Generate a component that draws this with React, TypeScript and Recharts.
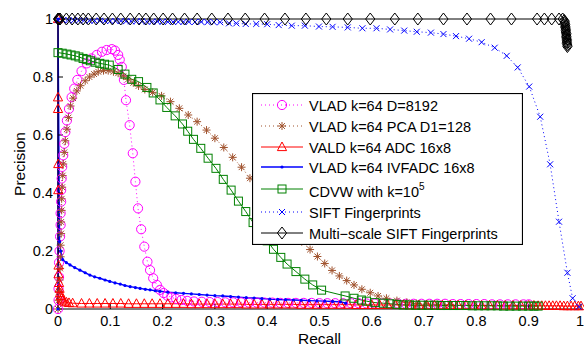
import React from "react";
import { LineChart, Line, XAxis, YAxis, Legend } from "recharts";

// recall / precision pairs
const vladD8192: [number, number][] = [
  [0, 0], [0.001, 0.03], [0.001, 0.07], [0.002, 0.11], [0.002, 0.16], [0.003, 0.2], [0.004, 0.25], [0.005, 0.29],
  [0.005, 0.33], [0.006, 0.37], [0.006, 0.41], [0.007, 0.45], [0.008, 0.49], [0.01, 0.53], [0.012, 0.57], [0.014, 0.61],
  [0.017, 0.65], [0.021, 0.69], [0.026, 0.73], [0.031, 0.76], [0.037, 0.79], [0.045, 0.82], [0.055, 0.847], [0.064, 0.864],
  [0.074, 0.876], [0.084, 0.887], [0.093, 0.893], [0.103, 0.896], [0.109, 0.891], [0.115, 0.876], [0.118, 0.86],
  [0.122, 0.835], [0.126, 0.79], [0.13, 0.72], [0.137, 0.634], [0.143, 0.537], [0.148, 0.439], [0.153, 0.347],
  [0.159, 0.275], [0.165, 0.215], [0.171, 0.163], [0.176, 0.134], [0.182, 0.106], [0.189, 0.083], [0.195, 0.066],
  [0.202, 0.055], [0.209, 0.046], [0.217, 0.04], [0.226, 0.035], [0.236, 0.031], [0.247, 0.028], [0.26, 0.026],
  [0.275, 0.025], [0.29, 0.024], [0.305, 0.024], [0.32, 0.023], [0.335, 0.023], [0.35, 0.023], [0.365, 0.022],
  [0.38, 0.022], [0.395, 0.022], [0.41, 0.022], [0.425, 0.021], [0.44, 0.021], [0.455, 0.021], [0.47, 0.021],
  [0.485, 0.021], [0.5, 0.02], [0.515, 0.02], [0.53, 0.02], [0.545, 0.02], [0.56, 0.02], [0.575, 0.02], [0.59, 0.019],
  [0.605, 0.019], [0.62, 0.019], [0.635, 0.019], [0.65, 0.019], [0.665, 0.018], [0.68, 0.018], [0.695, 0.018],
  [0.71, 0.018], [0.725, 0.018], [0.74, 0.018], [0.755, 0.017], [0.77, 0.017], [0.785, 0.017], [0.8, 0.017],
  [0.815, 0.017], [0.83, 0.016], [0.845, 0.016], [0.86, 0.016], [0.875, 0.016], [0.89, 0.016], [0.9, 0.016],
];

const vladPca128: [number, number][] = [
  [0, 0], [0.001, 0.03], [0.002, 0.06], [0.003, 0.1], [0.004, 0.14], [0.005, 0.18], [0.005, 0.22], [0.006, 0.26],
  [0.006, 0.3], [0.007, 0.34], [0.007, 0.38], [0.008, 0.42], [0.009, 0.46], [0.01, 0.5], [0.012, 0.54], [0.014, 0.58],
  [0.017, 0.62], [0.02, 0.66], [0.024, 0.7], [0.029, 0.727], [0.036, 0.752], [0.043, 0.77], [0.052, 0.787], [0.06, 0.8],
  [0.069, 0.81], [0.077, 0.818], [0.087, 0.822], [0.096, 0.822], [0.106, 0.818], [0.115, 0.813], [0.125, 0.803],
  [0.134, 0.792], [0.144, 0.78], [0.154, 0.769], [0.166, 0.757], [0.181, 0.747], [0.198, 0.735], [0.215, 0.715],
  [0.232, 0.692], [0.249, 0.669], [0.266, 0.646], [0.284, 0.617], [0.3, 0.589], [0.317, 0.557], [0.334, 0.523],
  [0.351, 0.489], [0.367, 0.451], [0.384, 0.412], [0.4, 0.374], [0.416, 0.336], [0.432, 0.3], [0.45, 0.263],
  [0.466, 0.232], [0.482, 0.205], [0.496, 0.181], [0.51, 0.157], [0.524, 0.133], [0.538, 0.114], [0.552, 0.098],
  [0.566, 0.083], [0.581, 0.068], [0.597, 0.056], [0.612, 0.045], [0.628, 0.037], [0.648, 0.029], [0.667, 0.023],
  [0.685, 0.019], [0.705, 0.017], [0.725, 0.016], [0.75, 0.015],
];

const valdAdc: [number, number][] = [
  [0, 1], [0, 0.73], [0, 0.69], [0.0005, 0.5], [0.0005, 0.41], [0.001, 0.15], [0.001, 0.12], [0.002, 0.09],
  [0.003, 0.07], [0.004, 0.055], [0.005, 0.045], [0.007, 0.036], [0.009, 0.03], [0.012, 0.026], [0.016, 0.023],
  [0.021, 0.021], [0.028, 0.02], [0.045, 0.019], [0.06, 0.019], [0.075, 0.019], [0.09, 0.019], [0.105, 0.019],
  [0.12, 0.019], [0.135, 0.018], [0.15, 0.018], [0.165, 0.018], [0.18, 0.018], [0.195, 0.018], [0.21, 0.018],
  [0.225, 0.018], [0.24, 0.018], [0.255, 0.017], [0.27, 0.017], [0.285, 0.017], [0.3, 0.017], [0.315, 0.017],
  [0.33, 0.017], [0.345, 0.017], [0.36, 0.016], [0.375, 0.016], [0.39, 0.016], [0.405, 0.016], [0.42, 0.016],
  [0.435, 0.016], [0.45, 0.016], [0.465, 0.015], [0.48, 0.015], [0.495, 0.015], [0.51, 0.015], [0.525, 0.015],
  [0.54, 0.015], [0.555, 0.015], [0.57, 0.014], [0.585, 0.014], [0.6, 0.014], [0.615, 0.014], [0.63, 0.014],
  [0.645, 0.014], [0.66, 0.014], [0.675, 0.013], [0.69, 0.013], [0.705, 0.013], [0.72, 0.013], [0.735, 0.013],
  [0.75, 0.013], [0.765, 0.013], [0.78, 0.013], [0.795, 0.012], [0.81, 0.012], [0.825, 0.012], [0.84, 0.012],
  [0.855, 0.012], [0.87, 0.012], [0.885, 0.012], [0.9, 0.012], [0.91, 0.012], [0.918, 0.011], [0.925, 0.011],
  [0.932, 0.011], [0.939, 0.011], [0.946, 0.011], [0.953, 0.011], [0.96, 0.011], [0.967, 0.01], [0.974, 0.01],
  [0.981, 0.01], [0.988, 0.01], [0.995, 0.01], [1, 0.01],
];

const vladIvfadc: [number, number][] = [
  [0, 0], [0, 1], [0.003, 0.232], [0.005, 0.2], [0.009, 0.17], [0.016, 0.16], [0.023, 0.152], [0.032, 0.143],
  [0.042, 0.134], [0.052, 0.125], [0.061, 0.117], [0.07, 0.111], [0.08, 0.106], [0.09, 0.1], [0.099, 0.095],
  [0.109, 0.09], [0.119, 0.086], [0.128, 0.081], [0.138, 0.077], [0.148, 0.074], [0.157, 0.071], [0.167, 0.068],
  [0.176, 0.066], [0.186, 0.063], [0.195, 0.061], [0.21, 0.058], [0.225, 0.056], [0.24, 0.054], [0.255, 0.052],
  [0.27, 0.05], [0.285, 0.048], [0.3, 0.046], [0.315, 0.045], [0.33, 0.043], [0.345, 0.041], [0.36, 0.039],
  [0.375, 0.038], [0.39, 0.036], [0.405, 0.034], [0.42, 0.033], [0.435, 0.032], [0.45, 0.031], [0.465, 0.03],
  [0.48, 0.029], [0.495, 0.028], [0.51, 0.027], [0.525, 0.026], [0.54, 0.025], [0.55, 0.02],
];

const cdvw: [number, number][] = [
  [0, 0.884], [0.008, 0.882], [0.017, 0.879], [0.025, 0.876], [0.033, 0.873], [0.04, 0.869], [0.048, 0.864],
  [0.055, 0.86], [0.062, 0.856], [0.071, 0.851], [0.08, 0.847], [0.089, 0.844], [0.098, 0.841], [0.115, 0.826],
  [0.128, 0.81], [0.141, 0.792], [0.154, 0.784], [0.17, 0.764], [0.182, 0.745], [0.195, 0.721], [0.208, 0.695],
  [0.224, 0.666], [0.238, 0.638], [0.248, 0.613], [0.259, 0.585], [0.273, 0.554], [0.287, 0.52], [0.302, 0.485],
  [0.316, 0.447], [0.331, 0.41], [0.345, 0.372], [0.359, 0.336], [0.373, 0.298], [0.387, 0.265], [0.4, 0.235],
  [0.412, 0.206], [0.426, 0.178], [0.438, 0.155], [0.455, 0.129], [0.472, 0.103], [0.487, 0.083], [0.504, 0.065],
  [0.549, 0.045], [0.566, 0.037], [0.58, 0.031], [0.59, 0.027], [0.606, 0.022], [0.622, 0.02], [0.635, 0.018],
  [0.648, 0.016], [0.66, 0.014], [0.672, 0.014], [0.684, 0.013], [0.696, 0.013], [0.708, 0.013], [0.72, 0.013],
  [0.732, 0.012], [0.744, 0.012], [0.756, 0.012], [0.768, 0.012], [0.78, 0.012], [0.792, 0.011], [0.804, 0.011],
  [0.816, 0.011], [0.828, 0.011], [0.84, 0.011], [0.852, 0.01], [0.864, 0.01], [0.876, 0.01], [0.888, 0.01],
  [0.9, 0.01], [0.91, 0.01], [0.918, 0.01],
];

const siftFp: [number, number][] = [
  [0, 0.997], [0.01, 0.996], [0.02, 0.996], [0.03, 0.995], [0.04, 0.995], [0.05, 0.995], [0.06, 0.994],
  [0.07, 0.994], [0.08, 0.994], [0.09, 0.993], [0.1, 0.993], [0.11, 0.993], [0.12, 0.993], [0.13, 0.992],
  [0.14, 0.992], [0.15, 0.992], [0.16, 0.992], [0.17, 0.991], [0.18, 0.991], [0.19, 0.991], [0.2, 0.991],
  [0.21, 0.99], [0.22, 0.99], [0.23, 0.99], [0.24, 0.99], [0.25, 0.99], [0.262, 0.99], [0.274, 0.99],
  [0.286, 0.989], [0.298, 0.989], [0.31, 0.989], [0.327, 0.985], [0.341, 0.985], [0.359, 0.983], [0.379, 0.983],
  [0.4, 0.982], [0.422, 0.979], [0.447, 0.977], [0.472, 0.977], [0.499, 0.974], [0.525, 0.973], [0.554, 0.971],
  [0.582, 0.968], [0.609, 0.968], [0.635, 0.964], [0.662, 0.96], [0.686, 0.956], [0.713, 0.953], [0.737, 0.948],
  [0.761, 0.941], [0.786, 0.932], [0.81, 0.92], [0.835, 0.901], [0.858, 0.873], [0.879, 0.833], [0.901, 0.767],
  [0.922, 0.663], [0.941, 0.499], [0.958, 0.301], [0.974, 0.125], [0.984, 0.037], [0.996, 0.008],
];

const multiScaleSift: [number, number][] = [
  [0, 1], [0.001, 1], [0.002, 1], [0.004, 1], [0.016, 1], [0.027, 1], [0.038, 1], [0.048, 1], [0.058, 1],
  [0.073, 1], [0.088, 1], [0.104, 1], [0.12, 1], [0.138, 1], [0.155, 1], [0.168, 1], [0.183, 1], [0.201, 1],
  [0.219, 1], [0.242, 1], [0.266, 1], [0.294, 1], [0.325, 1], [0.358, 1], [0.395, 1], [0.434, 1], [0.474, 1],
  [0.513, 1], [0.554, 1], [0.597, 1], [0.644, 1], [0.688, 1], [0.737, 1], [0.782, 1], [0.827, 1], [0.867, 1],
  [0.916, 1], [0.93, 1], [0.944, 1], [0.958, 1], [0.965, 1], [0.968, 0.995], [0.969, 0.99], [0.969, 0.985],
  [0.97, 0.98], [0.97, 0.975], [0.97, 0.97], [0.971, 0.965], [0.971, 0.96], [0.971, 0.955], [0.972, 0.95],
  [0.972, 0.945], [0.972, 0.94], [0.972, 0.935], [0.973, 0.93], [0.973, 0.925], [0.973, 0.92], [0.973, 0.915],
  [0.974, 0.91], [0.974, 0.905],
];

const xTicks = [0, 0.1, 0.2, 0.3, 0.4, 0.5, 0.6, 0.7, 0.8, 0.9, 1];
const yTicks = [0, 0.2, 0.4, 0.6, 0.8, 1];

const FONT = "'Liberation Sans', Arial, Helvetica, sans-serif";

type Kind = "circle" | "star" | "triangle" | "point" | "square" | "cross" | "diamond";

interface SeriesDef {
  name: string;
  sup?: string;
  pts: [number, number][];
  color: string;
  kind: Kind;
  dotted: boolean;
}

const series: SeriesDef[] = [
  { name: "VLAD k=64 D=8192", pts: vladD8192, color: "#ff00ff", kind: "circle", dotted: true },
  { name: "VLAD k=64 PCA D1=128", pts: vladPca128, color: "#a0522d", kind: "star", dotted: true },
  { name: "VALD k=64 ADC 16x8", pts: valdAdc, color: "#ff0000", kind: "triangle", dotted: false },
  { name: "VLAD k=64 IVFADC 16x8", pts: vladIvfadc, color: "#0000ff", kind: "point", dotted: false },
  { name: "CDVW with k=10", sup: "5", pts: cdvw, color: "#008000", kind: "square", dotted: false },
  { name: "SIFT Fingerprints", pts: siftFp, color: "#0000ff", kind: "cross", dotted: true },
  { name: "Multi\u2212scale SIFT Fingerprints", pts: multiScaleSift, color: "#000000", kind: "diamond", dotted: false },
];

function Marker({ kind, color, cx, cy }: { kind: Kind; color: string; cx: number; cy: number }) {
  if (cx == null || cy == null || isNaN(cx) || isNaN(cy)) return <g />;
  switch (kind) {
    case "circle":
      return <circle cx={cx} cy={cy} r={4.6} fill="none" stroke={color} strokeWidth={1} />;
    case "star": {
      const s = 4;
      const d = 2.9;
      return (
        <g stroke={color} strokeWidth={1}>
          <line x1={cx - s} y1={cy} x2={cx + s} y2={cy} />
          <line x1={cx} y1={cy - s} x2={cx} y2={cy + s} />
          <line x1={cx - d} y1={cy - d} x2={cx + d} y2={cy + d} />
          <line x1={cx - d} y1={cy + d} x2={cx + d} y2={cy - d} />
        </g>
      );
    }
    case "triangle":
      return (
        <polygon
          points={`${cx},${cy - 5} ${cx - 4.6},${cy + 3.6} ${cx + 4.6},${cy + 3.6}`}
          fill="none"
          stroke={color}
          strokeWidth={1}
        />
      );
    case "point":
      return <circle cx={cx} cy={cy} r={1.6} fill={color} stroke="none" />;
    case "square":
      return <rect x={cx - 4} y={cy - 4} width={8} height={8} fill="none" stroke={color} strokeWidth={1} />;
    case "cross": {
      const s = 3;
      return (
        <g stroke={color} strokeWidth={1}>
          <line x1={cx - s} y1={cy - s} x2={cx + s} y2={cy + s} />
          <line x1={cx - s} y1={cy + s} x2={cx + s} y2={cy - s} />
        </g>
      );
    }
    case "diamond":
      return (
        <polygon
          points={`${cx},${cy - 6} ${cx + 4.6},${cy} ${cx},${cy + 6} ${cx - 4.6},${cy}`}
          fill="none"
          stroke={color}
          strokeWidth={1}
        />
      );
  }
  return <g />;
}

const makeDot = (kind: Kind, color: string) => (p: any) =>
  <Marker key={`${kind}-${p.index}`} kind={kind} color={color} cx={p.cx} cy={p.cy} />;

const XTick = (p: any) => (
  <text x={p.x} y={p.y} dy="0.71em" textAnchor="middle" fontSize={14.5} fontFamily={FONT} fill="#000">
    {p.payload.value}
  </text>
);

const YTick = (p: any) => (
  <text x={p.x} y={p.y} dy="0.36em" textAnchor="end" fontSize={14.5} fontFamily={FONT} fill="#000">
    {p.payload.value}
  </text>
);

// legend rows: y centre of each row inside the box
const rowY = [12, 33, 54, 74, 96, 119, 140];

function LegendBox() {
  return (
    <svg width={271} height={152} style={{ display: "block" }}>
      <rect x={0.5} y={0.5} width={270} height={151} fill="#fff" stroke="#000" strokeWidth={1.2} />
      {series.map((s, i) => {
        const y = rowY[i];
        return (
          <g key={s.name}>
            <line
              x1={9}
              x2={51}
              y1={y}
              y2={y}
              stroke={s.color}
              strokeWidth={s.kind === "point" ? 1.6 : 1}
              strokeDasharray={s.dotted ? "1 3" : undefined}
            />
            <Marker kind={s.kind} color={s.color} cx={30} cy={y} />
            <text x={57} y={s.sup ? y + 2.7 : y + 0.3} dy="0.36em" fontSize={14.5} fontFamily={FONT} fill="#000">
              {s.name}
              {s.sup && (
                <tspan dy={-6.5} fontSize={10}>
                  {s.sup}
                </tspan>
              )}
            </text>
          </g>
        );
      })}
    </svg>
  );
}

export default function App() {
  return (
    <div style={{ position: "absolute", left: 0, top: 0, background: "#fff" }}>
      <LineChart width={584} height={347} margin={{ top: 19, right: 3, bottom: 0, left: 0 }}>
        <XAxis
          dataKey="x"
          type="number"
          domain={[0, 1]}
          ticks={xTicks}
          height={38}
          stroke="#000"
          tickSize={-5}
          tickMargin={12}
          tick={XTick}
          label={{ value: "Recall", position: "center", dy: 10, fontSize: 15.5, fontFamily: FONT, fill: "#000" }}
        />
        <XAxis
          xAxisId="top"
          orientation="top"
          type="number"
          domain={[0, 1]}
          ticks={xTicks}
          height={0}
          stroke="#000"
          tickSize={-5}
          tick={false}
        />
        <YAxis
          type="number"
          domain={[0, 1]}
          ticks={yTicks}
          width={58}
          stroke="#000"
          tickSize={-5}
          tickMargin={10}
          tick={YTick}
          label={{
            value: "Precision",
            angle: -90,
            position: "center",
            dx: -10,
            fontSize: 15.5,
            fontFamily: FONT,
            fill: "#000",
          }}
        />
        <YAxis
          yAxisId="right"
          orientation="right"
          type="number"
          domain={[0, 1]}
          ticks={yTicks}
          width={0}
          stroke="#000"
          tickSize={-5}
          tick={false}
        />
        {series.map((s) => (
          <Line
            key={s.name}
            name={s.name}
            data={s.pts.map(([x, y]) => ({ x, y }))}
            dataKey="y"
            type="linear"
            stroke={s.color}
            strokeWidth={s.kind === "point" ? 1.4 : 1}
            strokeDasharray={s.dotted ? "1 3" : undefined}
            dot={makeDot(s.kind, s.color)}
            activeDot={false}
            isAnimationActive={false}
          />
        ))}
        <Legend
          layout="vertical"
          align="center"
          verticalAlign="middle"
          content={() => <LegendBox />}
          wrapperStyle={{ left: 252, top: 93, width: 271, height: 152 }}
        />
      </LineChart>
    </div>
  );
}
